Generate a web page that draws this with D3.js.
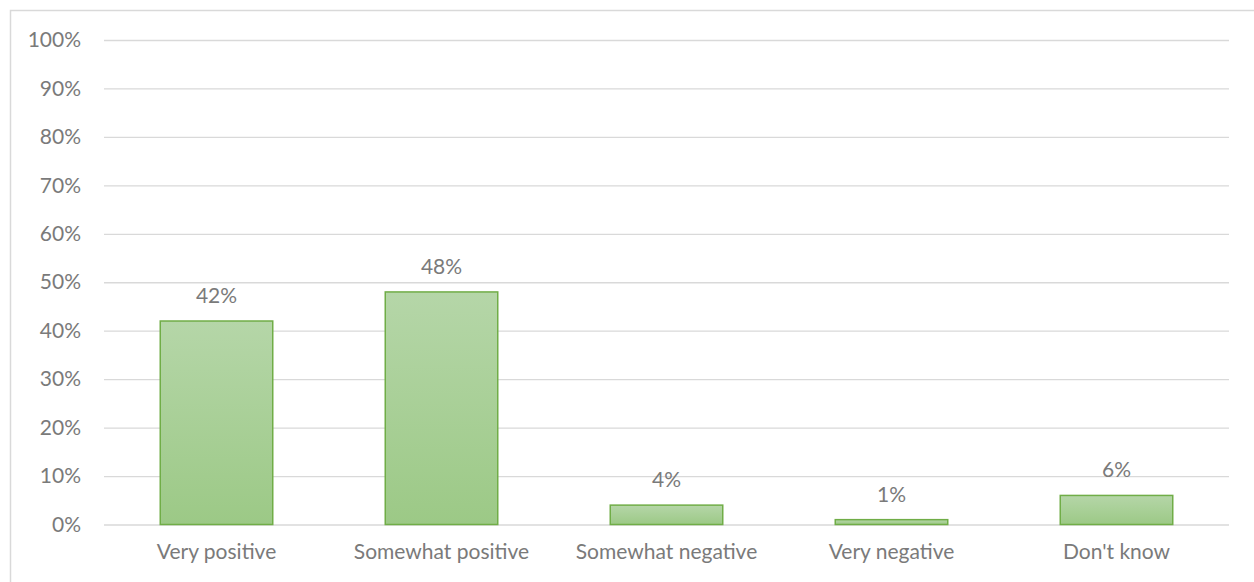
<!DOCTYPE html>
<html><head><meta charset="utf-8">
<script src="https://cdn.jsdelivr.net/npm/d3@7"></script>
<style>body{margin:0;background:#fff}svg{display:block}</style>
</head><body>
<script>
const categories = ["Very positive","Somewhat positive","Somewhat negative","Very negative","Don't know"];
const values = [42,48,4,1,6];
const tickValues = [0,10,20,30,40,50,60,70,80,90,100];

const W=1254,H=582;
const svg=d3.select("body").append("svg").attr("width",W).attr("height",H);
const font="Lato, 'Open Sans', sans-serif";
const textCol="#7a7a7a";
const fs=21;

svg.append("rect").attr("x",10.5).attr("y",10.5).attr("width",1260).attr("height",600)
  .attr("fill","#fff").attr("stroke","#d9d9d9").attr("stroke-width",1.5);

const x=d3.scaleBand().domain(categories).range([104,1229]).paddingInner(0.5).paddingOuter(0.25);
const y=d3.scaleLinear().domain([0,100]).range([524.5,40]);

const defs=svg.append("defs");
const g=defs.append("linearGradient").attr("id","bg").attr("x1",0).attr("y1",0).attr("x2",0).attr("y2",1);
g.append("stop").attr("offset","0%").attr("stop-color","#b5d6a8");
g.append("stop").attr("offset","100%").attr("stop-color","#9cc986");

const yAxis=d3.axisLeft(y).tickValues(tickValues).tickFormat(d=>d+"%").tickSize(-(1229-104)).tickPadding(23);
const ga=svg.append("g").attr("transform","translate(104,0)").call(yAxis);
ga.select(".domain").remove();
ga.selectAll(".tick line").attr("stroke","#d9d9d9").attr("stroke-width",1.3);
ga.selectAll(".tick text").attr("fill",textCol).attr("font-family",font).attr("font-size",fs);

const xAxis=d3.axisBottom(x).tickSize(0).tickPadding(20);
const gx=svg.append("g").attr("transform","translate(0,524.5)").call(xAxis);
gx.select(".domain").remove();
gx.selectAll(".tick text").attr("fill",textCol).attr("font-family",font).attr("font-size",fs);

svg.selectAll("rect.bar").data(values).join("rect").attr("class","bar")
  .attr("x",(d,i)=>x(categories[i])).attr("width",x.bandwidth())
  .attr("y",d=>y(d)).attr("height",d=>y(0)-y(d))
  .attr("fill","url(#bg)").attr("stroke","#70ad47").attr("stroke-width",1.5);

svg.selectAll("text.lbl").data(values).join("text").attr("class","lbl")
  .attr("x",(d,i)=>x(categories[i])+x.bandwidth()/2).attr("y",d=>y(d)-18)
  .attr("text-anchor","middle").attr("fill",textCol).attr("font-family",font).attr("font-size",fs)
  .text(d=>d+"%");
</script>
</body></html>
